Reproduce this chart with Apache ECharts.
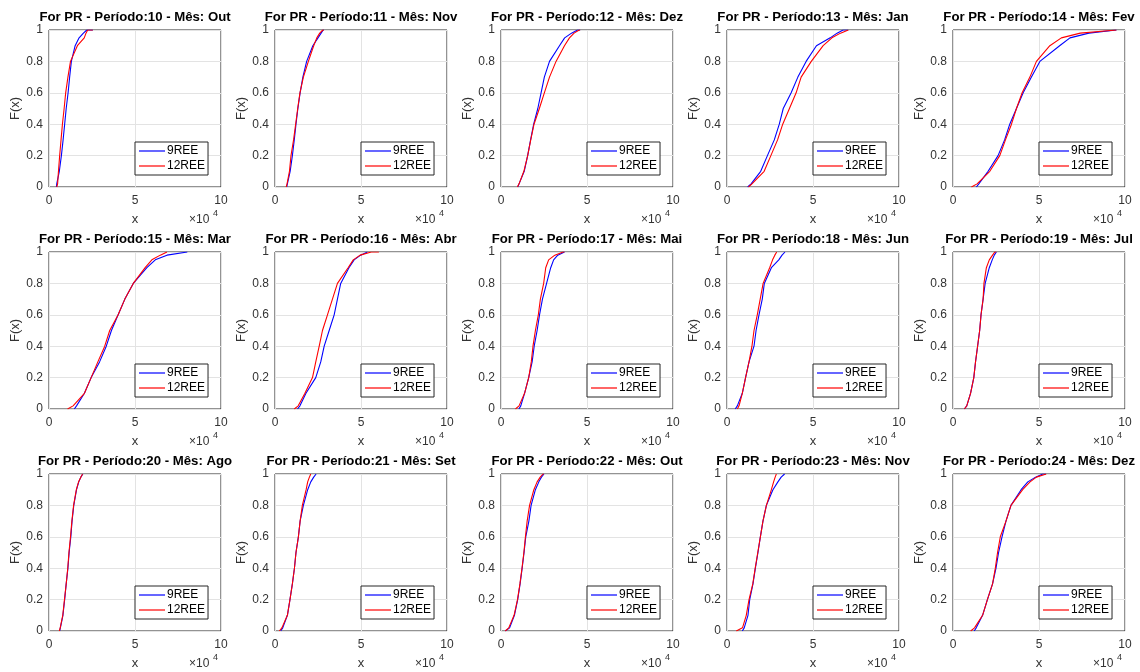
<!DOCTYPE html>
<html>
<head>
<meta charset="utf-8">
<script src="https://cdn.jsdelivr.net/npm/echarts@6/dist/echarts.min.js"></script>
<style>
html,body{margin:0;padding:0;background:#fff;}
#chart{width:1140px;height:672px;}
</style>
</head>
<body>
<div id="chart"></div>
<script>
const F_LEVELS = [0, 0.02, 0.1, 0.2, 0.3, 0.4, 0.5, 0.6, 0.7, 0.8, 0.9, 0.95, 0.98, 1, 1];

const periods = [10, 11, 12, 13, 14, 15, 16, 17, 18, 19, 20, 21, 22, 23, 24];
const months = ['Out', 'Nov', 'Dez', 'Jan', 'Fev', 'Mar', 'Abr', 'Mai', 'Jun', 'Jul', 'Ago', 'Set', 'Out', 'Nov', 'Dez'];
const seriesNames = ['9REE', '12REE'];

const xTicks = [0, 5, 10];
const yTicks = [0, 0.2, 0.4, 0.6, 0.8, 1];

// x values (×10^4) for 9REE (blue) and 12REE (red)
const p10_9REE  = [0.43, 0.45, 0.60, 0.72, 0.82, 0.91, 1.00, 1.11, 1.20, 1.30, 1.52, 1.75, 2.00, 2.20, 2.55];
const p10_12REE = [0.45, 0.50, 0.55, 0.62, 0.70, 0.78, 0.88, 0.97, 1.10, 1.25, 1.65, 2.05, 2.15, 2.25, 2.55];
const p11_9REE  = [0.68, 0.72, 0.88, 1.01, 1.12, 1.22, 1.33, 1.46, 1.62, 1.84, 2.20, 2.50, 2.68, 2.80, 2.85];
const p11_12REE = [0.65, 0.70, 0.84, 0.93, 1.08, 1.20, 1.32, 1.45, 1.65, 1.94, 2.25, 2.43, 2.60, 2.78, 2.85];
const p12_9REE  = [0.97, 1.05, 1.35, 1.55, 1.72, 1.90, 2.14, 2.33, 2.52, 2.82, 3.40, 3.70, 4.10, 4.45, 4.60];
const p12_12REE = [0.95, 1.05, 1.33, 1.55, 1.73, 1.92, 2.23, 2.52, 2.82, 3.20, 3.69, 3.98, 4.25, 4.55, 4.60];
const p13_9REE  = [1.20, 1.40, 1.96, 2.35, 2.75, 3.04, 3.27, 3.73, 4.12, 4.60, 5.20, 6.00, 6.40, 6.75, 7.05];
const p13_12REE = [1.25, 1.45, 2.16, 2.55, 2.94, 3.24, 3.63, 4.02, 4.31, 4.90, 5.59, 6.10, 6.60, 7.05, 7.05];
const p14_9REE  = [1.36, 1.50, 2.04, 2.62, 3.00, 3.30, 3.69, 4.08, 4.56, 5.05, 6.20, 6.80, 7.90, 9.50, 9.50];
const p14_12REE = [1.07, 1.40, 2.14, 2.72, 3.05, 3.40, 3.69, 4.02, 4.47, 4.85, 5.63, 6.30, 7.40, 9.50, 9.50];
const p15_9REE  = [1.47, 1.60, 2.06, 2.45, 2.94, 3.33, 3.63, 4.02, 4.41, 4.90, 5.69, 6.18, 6.86, 8.04, 8.04];
const p15_12REE = [1.08, 1.40, 2.06, 2.45, 2.84, 3.24, 3.53, 4.02, 4.41, 4.90, 5.59, 5.98, 6.47, 6.86, 6.86];
const p16_9REE  = [1.31, 1.45, 1.80, 2.37, 2.66, 2.86, 3.15, 3.44, 3.63, 3.82, 4.30, 4.60, 4.98, 5.37, 5.37];
const p16_12REE = [1.12, 1.35, 1.74, 2.18, 2.37, 2.57, 2.76, 3.05, 3.34, 3.63, 4.25, 4.55, 4.95, 5.60, 6.04];
const p17_9REE  = [1.04, 1.15, 1.37, 1.61, 1.81, 1.93, 2.10, 2.24, 2.41, 2.65, 2.89, 3.06, 3.30, 3.69, 3.69];
const p17_12REE = [0.84, 1.05, 1.37, 1.61, 1.76, 1.86, 2.00, 2.17, 2.29, 2.48, 2.60, 2.77, 3.13, 3.61, 3.69];
const p18_9REE  = [0.48, 0.60, 0.89, 1.08, 1.28, 1.57, 1.69, 1.86, 2.05, 2.17, 2.58, 3.01, 3.20, 3.37, 3.37];
const p18_12REE = [0.60, 0.70, 0.89, 1.08, 1.28, 1.45, 1.57, 1.76, 1.93, 2.10, 2.48, 2.65, 2.78, 2.89, 2.89];
const p19_9REE  = [0.66, 0.80, 1.02, 1.21, 1.31, 1.43, 1.55, 1.63, 1.75, 1.87, 2.11, 2.28, 2.40, 2.52, 2.52];
const p19_12REE = [0.66, 0.80, 1.02, 1.21, 1.31, 1.43, 1.55, 1.63, 1.75, 1.80, 1.94, 2.11, 2.30, 2.43, 2.52];
const p20_9REE  = [0.62, 0.66, 0.81, 0.91, 1.00, 1.10, 1.17, 1.27, 1.34, 1.44, 1.60, 1.73, 1.85, 1.97, 1.97];
const p20_12REE = [0.60, 0.65, 0.80, 0.90, 1.00, 1.09, 1.16, 1.25, 1.33, 1.43, 1.59, 1.72, 1.85, 1.95, 1.97];
const p21_9REE  = [0.33, 0.45, 0.72, 0.87, 1.01, 1.13, 1.22, 1.36, 1.46, 1.65, 1.90, 2.08, 2.25, 2.39, 2.39];
const p21_12REE = [0.25, 0.40, 0.72, 0.87, 1.01, 1.13, 1.22, 1.36, 1.46, 1.59, 1.81, 1.90, 2.00, 2.08, 2.08];
const p22_9REE  = [0.25, 0.50, 0.78, 0.97, 1.11, 1.23, 1.34, 1.44, 1.62, 1.75, 2.00, 2.20, 2.35, 2.50, 2.50];
const p22_12REE = [0.25, 0.45, 0.76, 0.96, 1.10, 1.22, 1.33, 1.42, 1.52, 1.66, 1.91, 2.10, 2.28, 2.44, 2.50];
const p23_9REE  = [0.89, 1.00, 1.22, 1.32, 1.51, 1.65, 1.80, 1.94, 2.09, 2.29, 2.67, 2.96, 3.15, 3.35, 3.35];
const p23_12REE = [0.54, 0.90, 1.12, 1.28, 1.50, 1.64, 1.79, 1.94, 2.09, 2.29, 2.58, 2.71, 2.80, 2.87, 2.87];
const p24_9REE  = [1.23, 1.35, 1.72, 2.00, 2.30, 2.50, 2.65, 2.85, 3.08, 3.37, 3.96, 4.35, 4.80, 5.22, 5.40];
const p24_12REE = [1.03, 1.25, 1.72, 2.00, 2.30, 2.46, 2.59, 2.75, 3.08, 3.37, 4.05, 4.48, 4.85, 5.42, 5.42];

const curves9 = [p10_9REE, p11_9REE, p12_9REE, p13_9REE, p14_9REE, p15_9REE, p16_9REE, p17_9REE,
                 p18_9REE, p19_9REE, p20_9REE, p21_9REE, p22_9REE, p23_9REE, p24_9REE];
const curves12 = [p10_12REE, p11_12REE, p12_12REE, p13_12REE, p14_12REE, p15_12REE, p16_12REE, p17_12REE,
                  p18_12REE, p19_12REE, p20_12REE, p21_12REE, p22_12REE, p23_12REE, p24_12REE];

// ---- layout ----
const FONT = 'Liberation Sans, Arial, Helvetica, sans-serif';
const colLeft = [49, 275, 501, 727, 953];
const rowTop = [30, 252, 474];
const PW = 172, PH = 157;
const AX = '#262626';
const LBL = '#333333';

const chart = echarts.init(document.getElementById('chart'), null, {renderer: 'canvas'});

const grid = [], xAxis = [], yAxis = [], series = [], title = [], legend = [], graphic = [];

periods.forEach((p, i) => {
  const r = Math.floor(i / 5), c = i % 5;
  const L = colLeft[c], T = rowTop[r];
  grid.push({left: L, top: T, width: PW, height: PH, show: true, borderColor: AX, borderWidth: 1, containLabel: false, backgroundColor: '#fff'});
  xAxis.push({
    gridIndex: i, type: 'value', min: xTicks[0], max: xTicks[xTicks.length - 1], interval: xTicks[1] - xTicks[0],
    axisLine: {show: false}, axisTick: {show: false},
    axisLabel: {fontSize: 12, color: LBL, margin: 8, fontFamily: FONT},
    splitLine: {show: true, lineStyle: {color: '#e3e3e3', width: 1}},
    name: 'x', nameLocation: 'middle', nameGap: 26,
    nameTextStyle: {fontSize: 13, color: LBL, fontFamily: FONT}
  });
  yAxis.push({
    gridIndex: i, type: 'value', min: yTicks[0], max: yTicks[yTicks.length - 1], interval: yTicks[1] - yTicks[0],
    axisLine: {show: false}, axisTick: {show: false},
    axisLabel: {fontSize: 12, color: LBL, margin: 6, fontFamily: FONT},
    splitLine: {show: true, lineStyle: {color: '#e3e3e3', width: 1}},
    name: 'F(x)', nameLocation: 'middle', nameGap: 24, nameRotate: 90,
    nameTextStyle: {fontSize: 13, color: LBL, fontFamily: FONT}
  });
  [curves9[i], curves12[i]].forEach((xs, k) => {
    series.push({
      name: seriesNames[k], type: 'line', xAxisIndex: i, yAxisIndex: i,
      data: xs.map((x, j) => [x, F_LEVELS[j]]),
      symbol: 'none', showSymbol: false, smooth: false,
      lineStyle: {width: 1.1, color: k === 0 ? '#0000ff' : '#ff0000'},
      itemStyle: {color: k === 0 ? '#0000ff' : '#ff0000'},
      z: 3 + k, silent: true
    });
  });
  title.push({
    text: 'For PR - Período:' + p + ' - Mês: ' + months[i],
    left: L + PW / 2, top: T - 19, textAlign: 'center',
    textStyle: {fontSize: 13.2, fontWeight: 'bold', color: '#000', fontFamily: FONT},
    padding: 0
  });
  legend.push({
    data: seriesNames, orient: 'vertical',
    left: L + 86, top: T + PH - 13 - 32,
    icon: 'rect', itemWidth: 26, itemHeight: 1.2, itemGap: 3,
    padding: [3, 3, 3, 4],
    borderColor: AX, borderWidth: 1, backgroundColor: '#fff', borderRadius: 0,
    textStyle: {fontSize: 12, color: '#000', fontFamily: FONT, padding: [0, 0, 0, -3]},
    selectedMode: false
  });
  graphic.push({
    type: 'text', left: L + PW - 32, top: T + PH + 27,
    style: {text: '×10', fill: LBL, font: '12px ' + FONT}
  });
  graphic.push({
    type: 'text', left: L + PW - 8, top: T + PH + 22,
    style: {text: '4', fill: LBL, font: '9px ' + FONT}
  });
});

chart.setOption({
  animation: false,
  backgroundColor: '#fff',
  title, legend, grid, xAxis, yAxis, series, graphic
});
</script>
</body>
</html>
